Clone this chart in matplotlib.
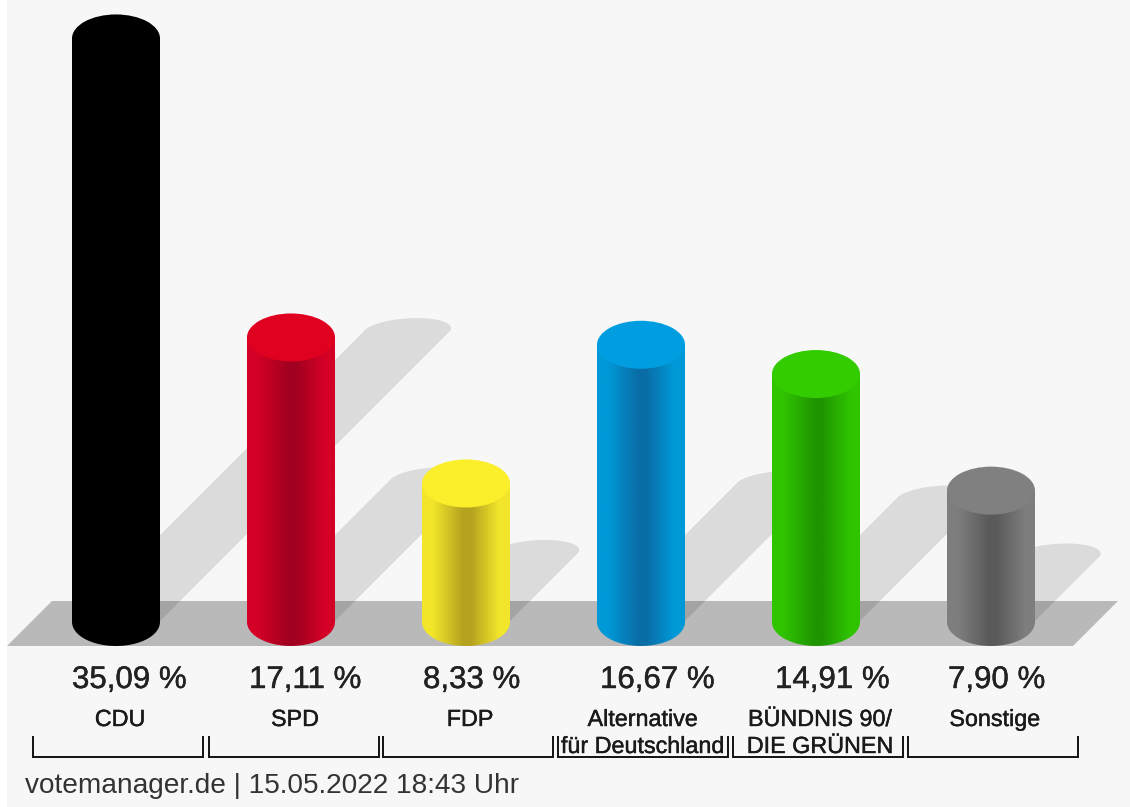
import numpy as np
import matplotlib
matplotlib.use("Agg")
import matplotlib.pyplot as plt
import matplotlib.patheffects as pe
from matplotlib.colors import LinearSegmentedColormap
from matplotlib.patches import Ellipse, PathPatch, Polygon, Rectangle
from matplotlib.path import Path

plt.rcParams["font.family"] = ["Liberation Sans", "DejaVu Sans"]

# Data
parties = ["CDU", "SPD", "FDP", "Alternative\nfür Deutschland", "BÜNDNIS 90/\nDIE GRÜNEN", "Sonstige"]
values = [35.09, 17.11, 8.33, 16.67, 14.91, 7.90]
value_labels = ["35,09 %", "17,11 %", "8,33 %", "16,67 %", "14,91 %", "7,90 %"]
footer = "votemanager.de | 15.05.2022 18:43 Uhr"

# colours: (cap, side edge, side centre)
cap_colors = ["#000000", "#e0001f", "#fbee2b", "#009ee0", "#33cc00", "#808080"]
edge_colors = ["#000000", "#d40026", "#f2e62a", "#0099d8", "#30c400", "#7e7e7e"]
mid_colors = ["#000000", "#a20020", "#b5a21f", "#0a6da6", "#1f9500", "#5a5a5a"]

# Scales of the picture: one category = 175 px, one percent = 16.63 px
W, H = 1130, 807
X0, DX = 116.0, 175.0
Y0, DY = 622.0, 16.63


def px_x(x):
    return (x - X0) / DX


def px_y(y):
    return (Y0 - y) / DY


fig = plt.figure(figsize=(W / 100, H / 100), dpi=100, facecolor="#f7f7f7")
ax = fig.add_axes([0, 0, 1, 1])
ax.set_axis_off()

# white strip on the left edge
ax.add_patch(Rectangle((px_x(0), px_y(H)), 7 / DX, H / DY, fc="#ffffff", ec="none", zorder=0))

# floor
floor = [(7, 646), (52, 601), (1118, 601), (1073, 646)]
ax.add_patch(Polygon([(px_x(a), px_y(b)) for a, b in floor], fc="#b9b9b9", ec="none", zorder=1))

half_w = 44 / DX
half_h = 24 / DY
t = np.linspace(0, np.pi, 40)

# shadows, 45 degrees up to the right, cap leaning to the right
for i, v in enumerate(values):
    sx = i + v * 8.29 / DX
    sy = v * 8.29 / DY
    sw = 43 / DX
    cap = [(sx + sw * np.cos(a) + 10 / DX * np.sin(a), sy + 13 / DY * np.sin(a)) for a in t]
    pts = [(i - sw, 0), (i + sw, 0)] + cap
    ax.add_patch(Polygon(pts, fc="#000000", alpha=0.11, ec="none", zorder=2))

# bars
for i, v in enumerate(values):
    cmap = LinearSegmentedColormap.from_list(
        "side",
        [(0, edge_colors[i]), (0.12, edge_colors[i]), (0.47, mid_colors[i]),
         (0.56, mid_colors[i]), (0.88, edge_colors[i]), (1, edge_colors[i])],
    )
    grad = np.linspace(0, 1, 256)[None, :]
    im = ax.imshow(
        grad, cmap=cmap, vmin=0, vmax=1, aspect="auto", interpolation="bilinear",
        extent=(i - half_w, i + half_w, -half_h, v), zorder=3,
    )
    a = np.linspace(np.pi, 2 * np.pi, 40)
    verts = [(i + half_w, v), (i - half_w, v)] + [(i + half_w * np.cos(x), half_h * np.sin(x)) for x in a]
    verts.append(verts[0])
    codes = [Path.MOVETO] + [Path.LINETO] * (len(verts) - 2) + [Path.CLOSEPOLY]
    clip = PathPatch(Path(verts, codes), transform=ax.transData, fc="none", ec="none")
    ax.add_patch(clip)
    im.set_clip_path(clip)
    ax.add_patch(Ellipse((i, v), 2 * half_w, 2 * half_h, fc=cap_colors[i], ec="none", zorder=4))

ax.set_xlim(px_x(0), px_x(W))
ax.set_ylim(px_y(H), px_y(0))

# value labels
value_left = [72, 249, 423, 600, 775, 948]
for x, s in zip(value_left, value_labels):
    ax.text(px_x(x), px_y(688), s, fontsize=22.5, color="#222222", ha="left", va="baseline", zorder=5,
            path_effects=[pe.withStroke(linewidth=0.3, foreground="#222222")])

# party names
name_center = [120, 295, 470, 643, 820, 995]
for x, s in zip(name_center, parties):
    lines = s.split("\n")
    ax.text(px_x(x), px_y(726), lines[0], fontsize=16.8, color="#1a1a1a", ha="center", va="baseline", zorder=5,
            path_effects=[pe.withStroke(linewidth=0.3, foreground="#1a1a1a")])
    if len(lines) > 1:
        ax.text(px_x(x), px_y(753), lines[1], fontsize=16.8, color="#1a1a1a", ha="center", va="baseline", zorder=5,
                path_effects=[pe.withStroke(linewidth=0.3, foreground="#1a1a1a")])

# brackets below the names
bracket_left = [33, 209, 383, 558, 733, 908]
for x in bracket_left:
    xs = [px_x(x), px_x(x), px_x(x + 170), px_x(x + 170)]
    ys = [px_y(737), px_y(757), px_y(757), px_y(737)]
    ax.plot(xs, ys, color="#111111", lw=1.4, solid_joinstyle="miter", zorder=5)

ax.text(px_x(25), px_y(793), footer, fontsize=20.2, color="#333333", ha="left", va="baseline", zorder=5)

fig.savefig("out.png", dpi=100, facecolor=fig.get_facecolor())
plt.close(fig)
